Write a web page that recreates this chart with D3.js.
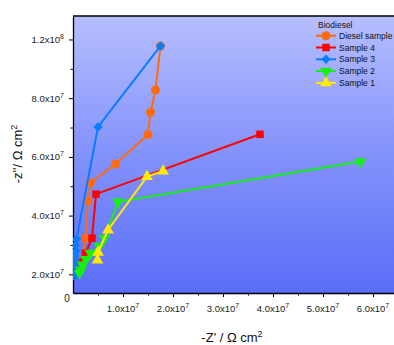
<!DOCTYPE html>
<html><head><meta charset="utf-8">
<script src="https://cdn.jsdelivr.net/npm/d3@7"></script>
<style>html,body{margin:0;padding:0;background:#fff;overflow:hidden}svg{display:block}</style>
</head><body><svg id="c" width="394" height="345"></svg>
<script>
// ---- data ----
const seriesNames = ["Diesel sample", "Sample 4", "Sample 3", "Sample 2", "Sample 1"];
const dieselX = [1.75e7, 1.65e7, 1.55e7, 1.5e7, 0.85e7, 0.35e7, 0.3e7, 0.25e7, 0.17e7, 0.15e7];
const dieselY = [9.78e7, 8.28e7, 7.52e7, 6.76e7, 5.76e7, 5.12e7, 4.5e7, 3.23e7, 2.43e7, 2.3e7];
const s4X = [3.74e7, 0.46e7, 0.38e7, 0.25e7, 0.12e7, 0.09e7];
const s4Y = [6.77e7, 4.73e7, 3.23e7, 2.72e7, 2.41e7, 2.2e7];
const s3X = [1.75e7, 0.5e7, 0.07e7, 0.05e7, 0.06e7, 0.03e7, 0.04e7, 0.03e7, 0.05e7, 0.04e7];
const s3Y = [9.78e7, 7.02e7, 3.2e7, 3.0e7, 2.8e7, 2.65e7, 2.5e7, 2.3e7, 2.05e7, 1.92e7];
const s2X = [5.75e7, 0.9e7, 0.63e7, 0.53e7, 0.35e7, 0.26e7, 0.19e7, 0.16e7, 0.13e7];
const s2Y = [5.84e7, 4.47e7, 3.23e7, 2.96e7, 2.72e7, 2.51e7, 2.32e7, 2.15e7, 2.05e7];
const s1X = [1.8e7, 1.48e7, 0.7e7, 0.5e7, 0.49e7];
const s1Y = [5.52e7, 5.33e7, 3.51e7, 2.75e7, 2.48e7];
const xTickValues = [1e7, 2e7, 3e7, 4e7, 5e7, 6e7];
const xTickMant = ["1.0", "2.0", "3.0", "4.0", "5.0", "6.0"];
const xTickExp = ["7", "7", "7", "7", "7", "7"];
const xMinorValues = [0.5e7, 1.5e7, 2.5e7, 3.5e7, 4.5e7, 5.5e7, 6.5e7];
const yTickValues = [2e7, 4e7, 6e7, 8e7, 1e8];
const yTickMant = ["2.0", "4.0", "6.0", "8.0", "1.2"];
const yTickExp = ["7", "7", "7", "7", "8"];
const yMinorValues = [3e7, 5e7, 7e7, 9e7];
const legendTitle = "Biodiesel";

// ---- styles ----
const colors = ["#ff6a10", "#ff0000", "#0a7cff", "#14f014", "#ffe80a"];
const symbols = ["circle", "square", "diamond", "tdown", "tup"];

const svg = d3.select("#c");
const L = 73, T = 16, R = 400, B = 293;
const x = d3.scaleLinear().domain([0, 6.54e7]).range([L, R]);
const y = d3.scaleLinear().domain([1.363e7, 1.08e8]).range([B, T]);

const defs = svg.append("defs");
const g = defs.append("linearGradient").attr("id", "bg").attr("x1", 0).attr("y1", 0).attr("x2", 0).attr("y2", 1);
g.append("stop").attr("offset", "0%").attr("stop-color", "#b6befd");
g.append("stop").attr("offset", "50%").attr("stop-color", "#8392fb");
g.append("stop").attr("offset", "100%").attr("stop-color", "#5a6df7");
defs.append("clipPath").attr("id", "clip").append("rect").attr("x", L).attr("y", T).attr("width", R - L).attr("height", B - T);

svg.append("rect").attr("x", L).attr("y", T).attr("width", R - L).attr("height", B - T).attr("fill", "url(#bg)");

const font = "Liberation Sans, Arial, sans-serif";

// axes
svg.append("g").attr("transform", `translate(0,${B})`)
  .call(d3.axisBottom(x).tickValues(xTickValues).tickFormat("").tickSizeInner(4).tickSizeOuter(0));
svg.append("g").attr("transform", `translate(0,${B})`)
  .call(d3.axisBottom(x).tickValues(xMinorValues).tickFormat("").tickSizeInner(2.5).tickSizeOuter(0))
  .select(".domain").remove();
svg.append("g").attr("transform", `translate(${L},0)`)
  .call(d3.axisLeft(y).tickValues(yTickValues).tickFormat("").tickSizeInner(4).tickSizeOuter(0));
svg.append("g").attr("transform", `translate(${L},0)`)
  .call(d3.axisLeft(y).tickValues(yMinorValues).tickFormat("").tickSizeInner(2.5).tickSizeOuter(0))
  .select(".domain").remove();
svg.selectAll(".domain").attr("stroke", "#000").attr("stroke-width", 1.3);
svg.selectAll(".tick line").attr("stroke", "#000");
svg.append("line").attr("x1", L).attr("x2", R).attr("y1", T).attr("y2", T).attr("stroke", "#000").attr("stroke-width", 1.3);

// tick labels
xTickValues.forEach((v, i) => {
  const t = svg.append("text").attr("x", x(v)).attr("y", 312).attr("text-anchor", "middle")
    .attr("font-family", font).attr("font-size", 9.5).attr("fill", "#222");
  t.append("tspan").text(xTickMant[i] + "x10");
  t.append("tspan").attr("dy", -4).attr("font-size", 7).text(xTickExp[i]);
});
yTickValues.forEach((v, i) => {
  const t = svg.append("text").attr("x", 64).attr("y", y(v) + 3.5).attr("text-anchor", "end")
    .attr("font-family", font).attr("font-size", 9.5).attr("fill", "#222");
  t.append("tspan").text(yTickMant[i] + "x10");
  t.append("tspan").attr("dy", -4).attr("font-size", 7).text(yTickExp[i]);
});
svg.append("text").attr("x", 67).attr("y", 302).attr("text-anchor", "middle")
  .attr("font-family", font).attr("font-size", 10).attr("fill", "#222").text("0");

// axis titles
const xt = svg.append("text").attr("x", 232).attr("y", 342).attr("text-anchor", "middle")
  .attr("font-family", font).attr("font-size", 13).attr("fill", "#111");
xt.append("tspan").text("-Z' / Ω cm");
xt.append("tspan").attr("dy", -5).attr("font-size", 9).text("2");
const yt = svg.append("text").attr("transform", "translate(22,154) rotate(-90)").attr("text-anchor", "middle")
  .attr("font-family", font).attr("font-size", 13).attr("fill", "#111");
yt.append("tspan").text("-z''/ Ω cm");
yt.append("tspan").attr("dy", -5).attr("font-size", 9).text("2");

// marker shapes
function symPath(i) {
  const s = symbols[i];
  if (s === "circle") return d3.symbol().type(d3.symbolCircle).size(64)();
  if (s === "square") return d3.symbol().type(d3.symbolSquare).size(56)();
  if (s === "diamond") return d3.symbol().type(d3.symbolSquare).size(44)();
  return d3.symbol().type(d3.symbolTriangle).size(60)();
}
function symRot(i) {
  const s = symbols[i];
  if (s === "diamond") return " rotate(45)";
  if (s === "tdown") return " rotate(180)";
  return "";
}

// series
const allX = [dieselX, s4X, s3X, s2X, s1X];
const allY = [dieselY, s4Y, s3Y, s2Y, s1Y];
const plot = svg.append("g").attr("clip-path", "url(#clip)");
allX.forEach((xs, i) => {
  const pts = xs.map((v, j) => [v, allY[i][j]]);
  const sg = plot.append("g");
  sg.append("path").attr("d", d3.line().x(d => x(d[0])).y(d => y(d[1]))(pts))
    .attr("fill", "none").attr("stroke", colors[i]).attr("stroke-width", 2);
  sg.selectAll("path.m").data(pts).join("path").attr("class", "m")
    .attr("d", symPath(i))
    .attr("transform", d => `translate(${x(d[0])},${y(d[1])})` + symRot(i))
    .attr("fill", colors[i]);
});

// legend
svg.append("text").attr("x", 318).attr("y", 28).attr("font-family", font).attr("font-size", 8.5).attr("fill", "#111").text(legendTitle);
seriesNames.forEach((n, i) => {
  const ly = 35.7 + i * 11.8;
  svg.append("line").attr("x1", 316).attr("x2", 336).attr("y1", ly).attr("y2", ly).attr("stroke", colors[i]).attr("stroke-width", 2);
  svg.append("path").attr("d", symPath(i)).attr("fill", colors[i])
    .attr("transform", `translate(326,${ly})` + symRot(i));
  svg.append("text").attr("x", 339).attr("y", ly + 3).attr("font-family", font).attr("font-size", 8.5).attr("fill", "#111").text(n);
});
</script></body></html>
